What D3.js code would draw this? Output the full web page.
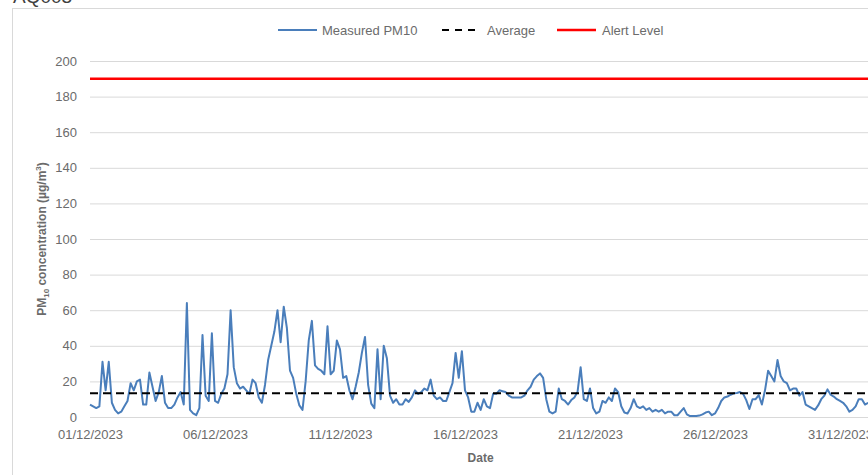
<!DOCTYPE html>
<html>
<head>
<meta charset="utf-8">
<script src="https://cdn.jsdelivr.net/npm/d3@7"></script>
<style>
  body { margin: 0; background: #fff; }
  svg { display: block; font-family: "Liberation Sans", Arial, sans-serif; }
</style>
</head>
<body>
<svg id="chart" width="868" height="475"></svg>
<script>
// 3-hourly PM10 readings from 01/12/2023 00:00, one row per day
const startTime = Date.UTC(2023, 11, 1)
const stepHours = 3
const pm10 = [
  7, 6, 5, 6, 31, 15, 31, 8,
  4, 2, 3, 6, 9, 19, 15, 20,
  21, 7, 7, 25, 17, 9, 14, 23,
  8, 5, 5, 7, 11, 14, 7, 64,
  4, 2, 1, 5, 46, 12, 9, 47,
  9, 8, 13, 16, 24, 60, 28, 19,
  16, 17, 15, 13, 21, 19, 11, 8,
  18, 32, 40, 48, 60, 42, 62, 50,
  26, 22, 13, 6.5, 4, 20, 43, 54,
  29, 27, 26, 24, 51, 24, 26, 43,
  38, 22, 23, 15, 10, 17, 25, 36,
  45, 18, 7.5, 5, 38, 10, 40, 33,
  12, 8, 10, 7, 7, 10, 8.5, 11,
  15, 13, 14, 16, 15, 21, 12, 10,
  11, 9, 9, 14, 19, 36, 22, 37,
  15, 11, 3, 3, 8, 4, 10, 6,
  5, 13, 13, 15, 14.5, 14, 12, 11,
  11, 11, 11, 12, 15, 17, 21, 23,
  24.5, 22, 10, 3, 2, 3, 16, 10,
  9, 7, 9.5, 11, 14, 28, 10, 9,
  16, 5, 2, 3, 9, 8, 11, 9,
  16, 14, 6, 2.5, 2, 5, 10, 6,
  5, 6, 4, 5, 3, 4, 3, 4,
  2, 3, 3, 1, 1, 3, 5, 1.5,
  0.5, 0.5, 0.5, 0.8, 1.5, 2.5, 3, 1,
  2, 5, 9, 11, 11.5, 12.5, 13.3, 13.5,
  14, 13, 9.5, 4.5, 10, 10, 12.3, 7,
  15, 26, 23, 20, 32, 23, 20, 19,
  15, 16, 16, 12, 14, 7, 6, 5,
  4, 6.5, 10, 12, 15.5, 12.5, 11.5, 10,
  9, 8, 6, 3, 4, 6, 10, 10,
  7, 8
]
const averageLevel = 13.4
const alertLevel = 190
const yTicks = [0, 20, 40, 60, 80, 100, 120, 140, 160, 180, 200]
const xTickDates = ['2023-12-01', '2023-12-06', '2023-12-11', '2023-12-16', '2023-12-21', '2023-12-26', '2023-12-31']
const legendItems = ['Measured PM10', 'Average', 'Alert Level']

const svg = d3.select('#chart')
const grey = '#6b6b6b'
const plotLeft = 90, plotTop = 61, plotBottom = 417
const dayWidth = 25

// chart frame and clipped title above it
svg.append('rect')
  .attr('x', 12.5).attr('y', 8.5)
  .attr('width', 900).attr('height', 500)
  .attr('fill', 'none').attr('stroke', '#d9d9d9')
svg.append('text')
  .attr('x', 13).attr('y', 3)
  .attr('font-size', 19).attr('fill', '#404040')
  .text('AQ003')

const series = pm10.map((v, i) => ({ t: new Date(startTime + i * stepHours * 3600e3), v: v }))
const xEnd = new Date(startTime + 31.25 * 864e5)
const x = d3.scaleUtc()
  .domain([new Date(startTime), xEnd])
  .range([plotLeft, plotLeft + 31.25 * dayWidth])
const y = d3.scaleLinear().domain([0, 200]).range([plotBottom, plotTop])
const plotW = x.range()[1] - plotLeft

// y gridlines + labels
const yAxis = svg.append('g')
  .attr('transform', 'translate(' + plotLeft + ',0)')
  .call(d3.axisLeft(y).tickValues(yTicks).tickSize(-plotW).tickPadding(13))
yAxis.select('.domain').remove()
yAxis.selectAll('line').attr('stroke', '#d9d9d9')
yAxis.selectAll('text').attr('font-size', 13).attr('fill', grey)
yAxis.attr('font-family', null).attr('font-size', null)

// x labels
const fmt = d3.utcFormat('%d/%m/%Y')
const xAxis = svg.append('g')
  .attr('transform', 'translate(0,' + plotBottom + ')')
  .call(d3.axisBottom(x)
    .tickValues(xTickDates.map(d => new Date(d + 'T00:00:00Z')))
    .tickSize(0).tickPadding(13).tickFormat(fmt))
xAxis.select('.domain').remove()
xAxis.selectAll('text').attr('font-size', 13).attr('fill', grey)
xAxis.attr('font-family', null).attr('font-size', null)

// axis titles
svg.append('text')
  .attr('x', (plotLeft + x.range()[1]) / 2).attr('y', 462)
  .attr('text-anchor', 'middle')
  .attr('font-size', 12).attr('font-weight', 'bold').attr('fill', grey)
  .text('Date')

const yTitle = svg.append('text')
  .attr('transform', 'translate(46,' + ((plotTop + plotBottom) / 2) + ') rotate(-90)')
  .attr('text-anchor', 'middle')
  .attr('font-size', 12).attr('font-weight', 'bold').attr('fill', grey)
yTitle.append('tspan').text('PM')
yTitle.append('tspan').attr('font-size', 8).attr('dy', 3).text('10')
yTitle.append('tspan').attr('dy', -3).text(' concentration (µg/m')
yTitle.append('tspan').attr('font-size', 8).attr('dy', -5).text('3')
yTitle.append('tspan').attr('dy', 5).text(')')

// alert + average reference lines
svg.append('line')
  .attr('x1', plotLeft).attr('x2', x.range()[1])
  .attr('y1', y(alertLevel)).attr('y2', y(alertLevel))
  .attr('stroke', '#ff0000').attr('stroke-width', 2.5)

const line = d3.line()
  .x(d => x(d.t))
  .y(d => y(d.v))
svg.append('path')
  .datum(series)
  .attr('d', line)
  .attr('fill', 'none')
  .attr('stroke', '#4a7ebb')
  .attr('stroke-width', 2)
  .attr('stroke-linejoin', 'round')

svg.append('line')
  .attr('x1', plotLeft).attr('x2', x.range()[1])
  .attr('y1', y(averageLevel)).attr('y2', y(averageLevel))
  .attr('stroke', '#000').attr('stroke-width', 2)
  .attr('stroke-dasharray', '8,5')

// legend
const legendX = [278, 442, 557]
const legend = svg.append('g').selectAll('g')
  .data(legendItems)
  .enter()
  .append('g')
  .attr('transform', (d, i) => 'translate(' + legendX[i] + ',30)')
legend.append('line')
  .attr('x1', 0).attr('x2', 39)
  .attr('stroke', (d, i) => ['#4a7ebb', '#000', '#ff0000'][i])
  .attr('stroke-width', (d, i) => i == 2 ? 2.5 : 2)
  .attr('stroke-dasharray', (d, i) => i == 1 ? '7,6' : null)
legend.append('text')
  .attr('x', (d, i) => i == 0 ? 44 : 45)
  .attr('dy', '0.35em')
  .attr('font-size', 13).attr('fill', grey)
  .text(d => d)
</script>
</body>
</html>
